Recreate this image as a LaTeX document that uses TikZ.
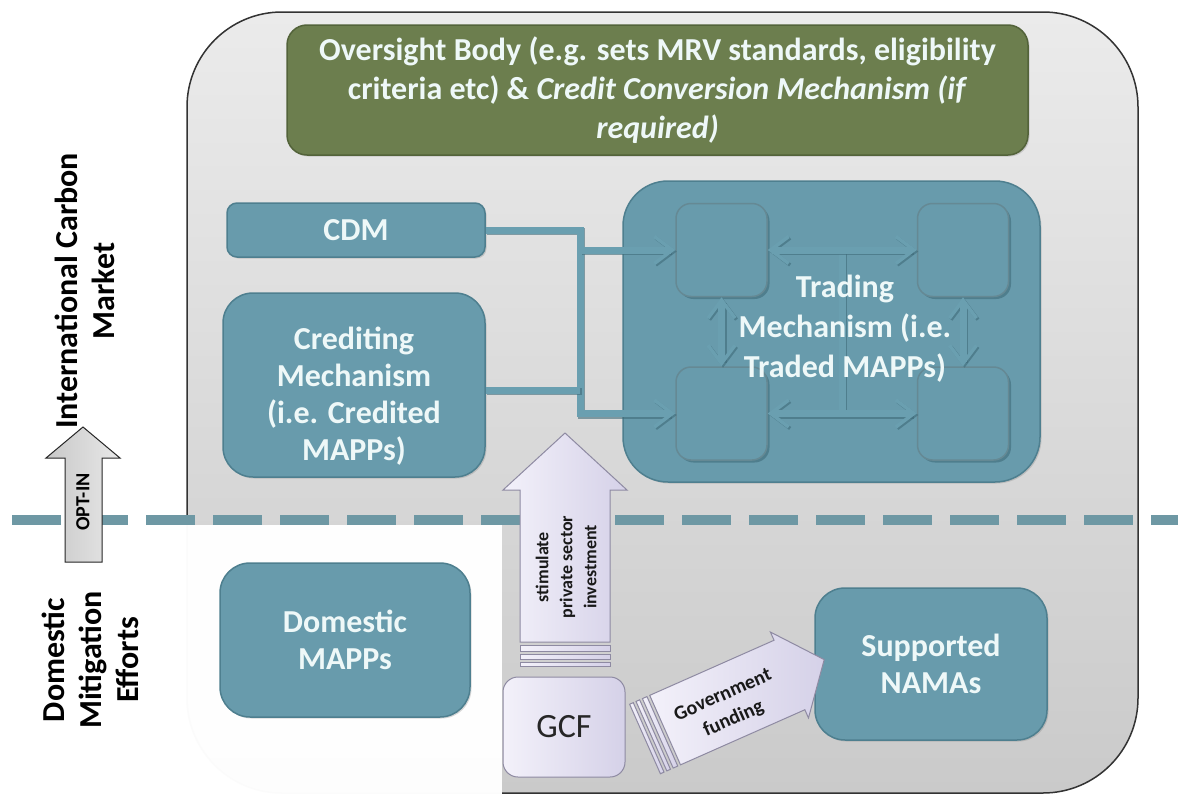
\documentclass[tikz,border=0pt]{standalone}
\usepackage{fontspec}
\setmainfont{Carlito}
\usetikzlibrary{arrows.meta,shadows,calc}

\definecolor{tealfill}{HTML}{689BAC}
\definecolor{tealedge}{HTML}{4E7F8F}
\definecolor{tealline}{HTML}{6A9FB0}
\definecolor{tealdark}{HTML}{3F6B79}
\definecolor{olivefill}{HTML}{6C7E4E}
\definecolor{oliveedge}{HTML}{53633A}
\definecolor{boxtext}{HTML}{EEF8F8}
\definecolor{dashcol}{HTML}{6E98A4}
\definecolor{panelTop}{HTML}{EBEBEB}
\definecolor{panelBot}{HTML}{CACACA}
\definecolor{lavA}{HTML}{F3F1FA}
\definecolor{lavB}{HTML}{D5D1E8}
\definecolor{lavEdge}{HTML}{8E8AA2}
\definecolor{optA}{HTML}{E8E8E8}
\definecolor{optB}{HTML}{C8C8C8}

\tikzset{
  bigfont/.style={font=\fontsize{32}{37}\selectfont\bfseries},
  tealbox/.style={draw=tealedge, line width=1.5pt, fill=tealfill, text=boxtext,
    align=center, bigfont, inner sep=0pt,
    drop shadow={shadow xshift=1.5pt, shadow yshift=-1.5pt, opacity=.3}},
  cellbox/.style={draw=tealdark!80, line width=1.5pt, fill=tealfill, inner sep=0pt,
    minimum width=91pt, minimum height=93pt, rounded corners=15pt,
    drop shadow={shadow xshift=2.5pt, shadow yshift=-2.5pt, fill=tealdark, opacity=.6}},
  conn/.style={draw=tealline, line width=7pt,
    preaction={draw=tealdark, opacity=.6, line width=7pt,
      transform canvas={xshift=1.5pt, yshift=-1.5pt}}},
  sidelabel/.style={rotate=90, align=center, font=\fontsize{32}{37}\selectfont\bfseries},
  blockarrow/.style={draw=lavEdge, line width=1pt, left color=lavA, right color=lavB},
  arrowlabel/.style={align=center, text=black!90}
}

\begin{document}
\begin{tikzpicture}[x=1pt, y=-1pt,
  >={Straight Barb[length=18pt, width=27pt, line width=3.5pt]}]
\useasboundingbox (0,0) rectangle (1178,798);
\fill[white] (0,0) rectangle (1178,798);

% grey market panel
\path[draw=black!80, line width=1.5pt, top color=panelTop, bottom color=panelBot,
  rounded corners=95pt] (187,12) rectangle (1138,793);
% domestic corner left outside the panel
\fill[white, opacity=.98] (180,525) rectangle (502,798);

% boundary between international and domestic
\draw[dashcol, line width=10pt, dash pattern=on 49pt off 18pt] (12,520) -- (1178,520);

% oversight body
\node[draw=oliveedge, line width=1.5pt, fill=olivefill, text=boxtext, align=center,
  font=\fontsize{32}{39}\selectfont\bfseries, rounded corners=20pt,
  minimum width=741pt, minimum height=130pt, inner sep=0pt,
  drop shadow={shadow xshift=1.5pt, shadow yshift=-1.5pt, opacity=.3}]
  (oversight) at (657.5,90)
  {Oversight Body (e.g. sets MRV standards, eligibility\\
   criteria etc) \& \textit{Credit Conversion Mechanism (if}\\
   \textit{required)}};

% mechanisms feeding the market
\node[tealbox, rounded corners=10pt, minimum width=258pt, minimum height=54pt]
  (cdm) at (356,230) {CDM};
\node[tealbox, rounded corners=30pt, minimum width=262pt, minimum height=184pt]
  (cred) at (354,385) {};
\node[text=boxtext, align=center, bigfont] (credtxt) at (354,396)
  {Crediting\\Mechanism\\(i.e. Credited\\MAPPs)};

% trading mechanism and its four cells
\node[tealbox, rounded corners=45pt, minimum width=417pt, minimum height=301pt]
  (trade) at (831.5,331.5) {};
\node[cellbox] (tl) at (721.5,250) {};
\node[cellbox] (tr) at (963,250) {};
\node[cellbox] (bl) at (721.5,413.5) {};
\node[cellbox] (br) at (963,413.5) {};

% links into the trading cells
\coordinate (bus) at (580,0);
\draw[conn, ->] (cdm.east) -- (cdm.east -| bus) -- (bl.west -| bus) -- (bl.west);
\draw[conn, ->] (tl.west -| bus) -- (tl.west);
\draw[conn] ($(cred.east)+(0,5)$) -- ($(cred.east -| bus)+(0,5)$);

% links between the cells
\draw[conn] ($(tl.east)!.5!(tr.west)$) -- ($(bl.east)!.5!(br.west)$);
\draw[conn, <->] (tl.east) -- (tr.west);
\draw[conn, <->] (bl.east) -- (br.west);
\draw[conn, <->] (tl.south) -- (bl.north);
\draw[conn, <->] (tr.south) -- (br.north);

\node[text=boxtext, align=center, font=\fontsize{32}{40}\selectfont\bfseries]
  (tradetxt) at (845,329) {Trading\\Mechanism (i.e.\\Traded MAPPs)};

% domestic side
\node[tealbox, rounded corners=30pt, minimum width=250pt, minimum height=154pt]
  (dom) at (345,640) {Domestic\\MAPPs};
\node[tealbox, rounded corners=30pt, minimum width=232pt, minimum height=152pt]
  (nama) at (931,664) {Supported\\NAMAs};

\node[draw=lavEdge, line width=1pt, left color=lavA, right color=lavB,
  rounded corners=15pt, minimum width=122pt, minimum height=100pt, inner sep=0pt,
  font=\fontsize{34}{40}\selectfont, text=black!85]
  (gcf) at (564,727) {GCF};

% side labels
\node[sidelabel] (intl) at (85,291) {International Carbon\\Market};
\node[sidelabel] (domlabel) at (90,660) {Domestic\\Mitigation\\Efforts};

% opt-in arrow
\path[draw=black!85, line width=1pt, left color=optB, right color=optA]
  (65,562) -- (65,458) -- (46,458) -- (83,427) -- (120,458) -- (102,458) -- (102,562) -- cycle;
\node[rotate=90, font=\fontsize{20}{24}\selectfont\bfseries] (optin) at (83,502) {OPT-IN};

% private investment arrow, striped tail
\path[blockarrow] (520,642) -- (520,490) -- (503,490) -- (565,433) -- (627,490)
  -- (610,490) -- (610,642) -- cycle;
\path[blockarrow] (520,645) rectangle (610,651);
\path[blockarrow] (520,654) rectangle (610,659);
\path[blockarrow] (520,662) rectangle (610,666);
\node[arrowlabel, rotate=90, font=\fontsize{18}{24}\selectfont\bfseries]
  (stimtxt) at (566,567) {stimulate\\private sector\\investment};

% government funding arrow, striped tail
\begin{scope}[shift={(645,739)}, rotate=23.9]
  \path[blockarrow] (0,-38) rectangle (4,38);
  \path[blockarrow] (7,-38) rectangle (11,38);
  \path[blockarrow] (14,-38) rectangle (19,38);
  \path[blockarrow] (22,-38) -- (158,-38) -- (158,-47) -- (196,0) -- (158,47)
    -- (158,38) -- (22,38) -- cycle;
  \node[arrowlabel, rotate=23.9, font=\fontsize{20}{26}\selectfont\bfseries]
    (govtxt) at (89,5) {Government\\funding};
\end{scope}
\end{tikzpicture}
\end{document}
